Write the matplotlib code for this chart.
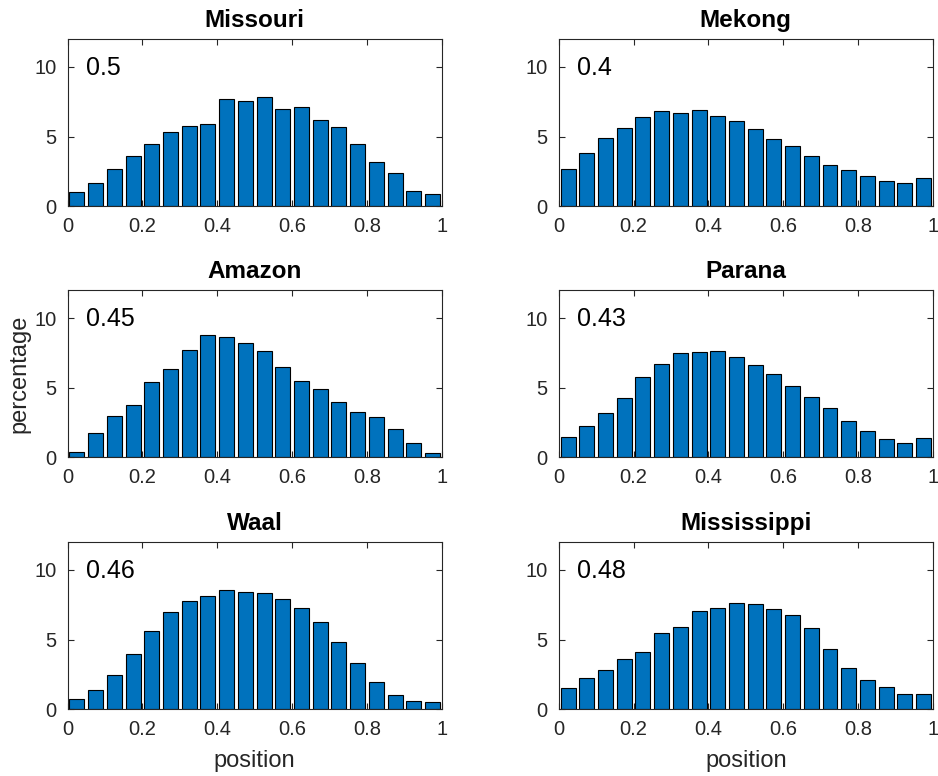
import numpy as np
import matplotlib.pyplot as plt

plt.rcParams['font.family'] = ['Liberation Sans', 'DejaVu Sans']

# bin centres (20 bins of width 0.05)
centres = np.arange(0.025, 1.0, 0.05)

rivers = ['Missouri', 'Mekong', 'Amazon', 'Parana', 'Waal', 'Mississippi']
means = ['0.5', '0.4', '0.45', '0.43', '0.46', '0.48']

missouri = [0.98, 1.63, 2.66, 3.59, 4.45, 5.29, 5.79, 5.89, 7.70, 7.56,
            7.87, 6.99, 7.11, 6.17, 5.67, 4.43, 3.16, 2.37, 1.10, 0.84]
mekong = [2.66, 3.80, 4.86, 5.60, 6.41, 6.82, 6.70, 6.91, 6.44, 6.08,
          5.53, 4.83, 4.35, 3.59, 2.97, 2.58, 2.15, 1.82, 1.65, 1.99]
amazon = [0.38, 1.72, 2.94, 3.77, 5.39, 6.30, 7.73, 8.78, 8.66, 8.23,
          7.66, 6.49, 5.44, 4.87, 3.94, 3.27, 2.89, 2.05, 1.03, 0.29]
parana = [1.41, 2.22, 3.15, 4.22, 5.78, 6.68, 7.49, 7.57, 7.66, 7.21,
          6.59, 6.01, 5.08, 4.30, 3.51, 2.58, 1.86, 1.29, 1.00, 1.34]
waal = [0.74, 1.36, 2.46, 3.94, 5.61, 6.97, 7.80, 8.16, 8.59, 8.40,
        8.31, 7.90, 7.30, 6.28, 4.84, 3.34, 1.93, 1.00, 0.55, 0.50]
mississippi = [1.53, 2.24, 2.82, 3.63, 4.13, 5.47, 5.87, 7.04, 7.28, 7.64,
               7.52, 7.16, 6.73, 5.85, 4.32, 2.96, 2.08, 1.55, 1.05, 1.05]

values = [missouri, mekong, amazon, parana, waal, mississippi]

fig = plt.figure(figsize=(9.38, 7.76), dpi=100)

lefts = [0.072, 0.5956]
bottoms = [0.7345, 0.411, 0.0863]
w, h = 0.399, 0.215
grey = '#262626'

for i in range(6):
    r, c = divmod(i, 2)
    ax = fig.add_axes([lefts[c], bottoms[r], w, h])
    ax.bar(centres, values[i], width=0.04, color='#0072BD',
           edgecolor='black', linewidth=0.8)
    ax.set_xlim(0, 1)
    ax.set_ylim(0, 12)
    ax.set_xticks([0, 0.2, 0.4, 0.6, 0.8, 1])
    ax.set_xticklabels(['0', '0.2', '0.4', '0.6', '0.8', '1'])
    ax.set_yticks([0, 5, 10])
    ax.tick_params(direction='in', top=True, right=True, length=4,
                   labelsize=14.5, colors=grey, width=0.8)
    ax.tick_params(axis='x', pad=8)
    ax.tick_params(axis='y', pad=8)
    for s in ax.spines.values():
        s.set_color(grey)
        s.set_linewidth(0.8)
    ax.set_title(rivers[i], fontsize=17.5, fontweight='bold', pad=9)
    ax.text(0.05, 9.9, means[i], fontsize=18, va='center', ha='left')
    if i == 2:
        ax.set_ylabel('percentage', fontsize=17, color=grey, labelpad=3)
    if r == 2:
        ax.set_xlabel('position', fontsize=17, color=grey, labelpad=8)

fig.savefig('out.png', dpi=100)
